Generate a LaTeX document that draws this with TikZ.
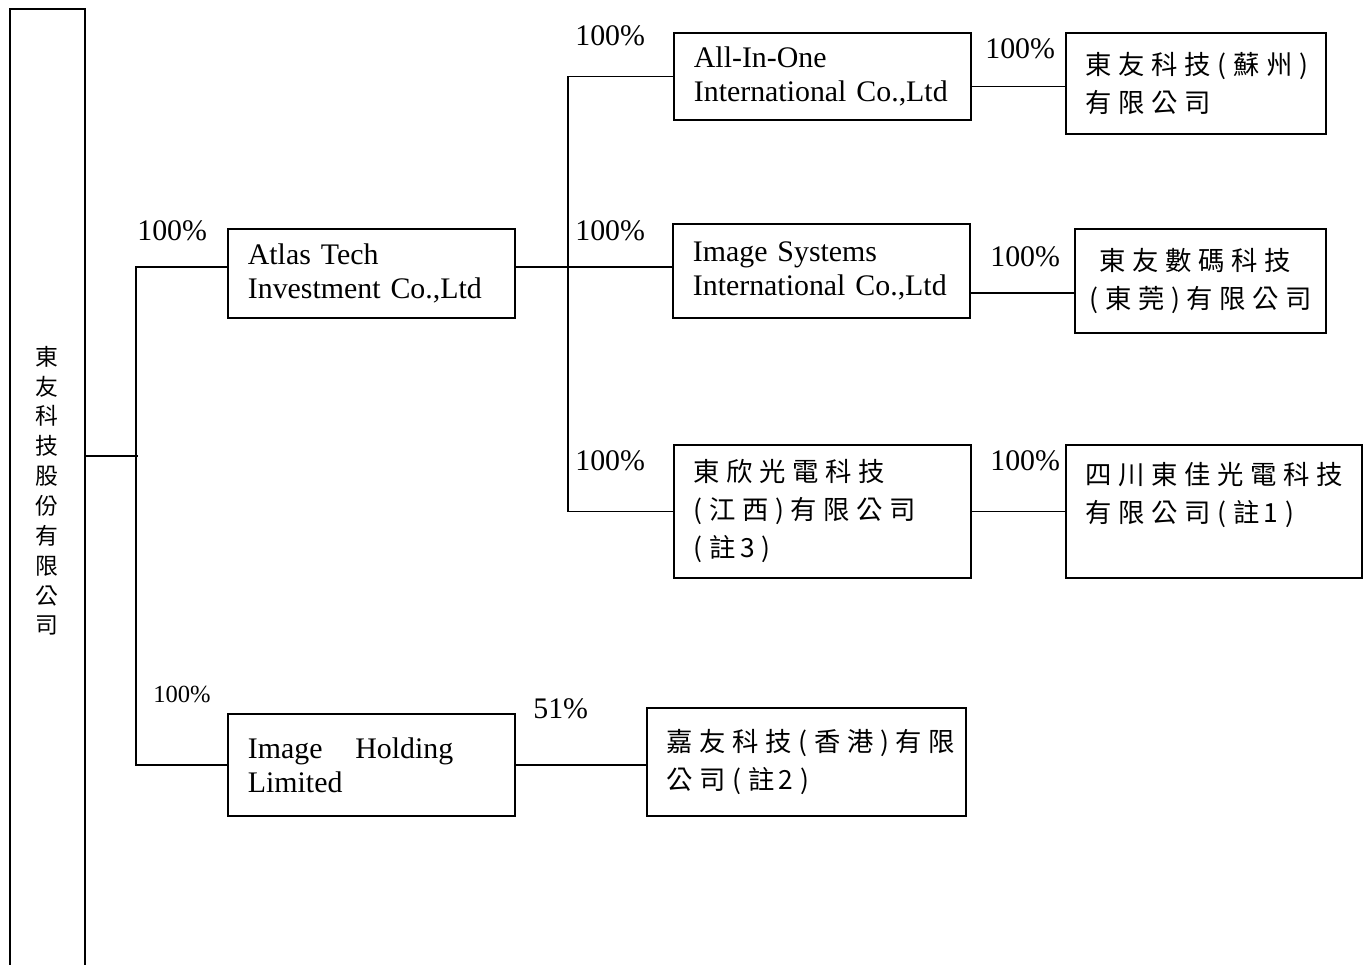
\documentclass[tikz,border=0pt]{standalone}
\usepackage{fontspec}
\setmainfont{Liberation Serif}
\newfontfamily\cjk[LetterSpace=25]{Noto Sans CJK TC}
\newfontfamily\cjkv{Noto Sans CJK TC}
\usepackage{tikz}
\usetikzlibrary{positioning}

\tikzset{
  cobox/.style={draw, line width=1pt, inner xsep=0.4cm, inner ysep=2pt, align=left, anchor=north west},
  engtxt/.style={font=\fontsize{17}{19.3}\selectfont},
  chntxt/.style={font=\cjk\fontsize{15}{21.6}\selectfont},
  pct/.style={anchor=base west, inner sep=0pt, font=\fontsize{17}{19}\selectfont},
  link/.style={line width=0.8pt}
}

\begin{document}
\begin{tikzpicture}[x=0.02cm,y=-0.02cm]
  \useasboundingbox (0,0) rectangle (1369,964);
  \clip (0,0) rectangle (1369,964);
  % parent company, box runs off the page
  \node[draw, line width=1pt, anchor=north west, minimum width=1.5cm, minimum height=19.28cm, align=center,
        font=\cjkv\fontsize{13}{17}\selectfont] (parent) at (9,8)
        {東\\友\\科\\技\\股\\份\\有\\限\\公\\司};

  % first level
  \node[cobox, engtxt, text width=4.94cm, minimum height=1.78cm] (atlas) at (227,228)
        {Atlas Tech\\Investment Co.,Ltd};
  \node[cobox, engtxt, text width=4.94cm, minimum height=2.04cm] (holding) at (227,713)
        {Image\hspace{1.1em}Holding\\Limited};

  % second level
  \node[cobox, engtxt, text width=5.14cm, minimum height=1.74cm] (aio) at (673,32)
        {All-In-One\\International Co.,Ltd};
  \node[cobox, engtxt, text width=5.14cm, minimum height=1.88cm] (imgsys) at (672,223)
        {Image Systems\\International Co.,Ltd};
  \node[cobox, chntxt, text width=5.14cm, minimum height=2.66cm] (jiangxi) at (673,444)
        {東欣光電科技\\(江西)有限公司\\(註\,3)};
  \node[cobox, chntxt, text width=5.58cm, minimum height=2.16cm] (jiayou) at (646,707)
        {嘉友科技(香港)有限\\公司(註\,2)};

  % third level
  \node[cobox, chntxt, text width=4.4cm, minimum height=2.02cm] (suzhou) at (1065,32)
        {東友科技(蘇州)\\有限公司};
  \node[cobox, chntxt, inner xsep=0.3cm, text width=4.42cm, minimum height=2.08cm] (dongguan) at (1074,228)
        {\hspace{0.2cm}東友數碼科技\\(東莞)有限公司};
  \node[cobox, chntxt, text width=5.12cm, minimum height=2.66cm] (sichuan) at (1065,444)
        {四川東佳光電科技\\有限公司(註\,1)\\\mbox{}};

  % trunks
  \coordinate (trunkA) at (136,456);
  \coordinate (trunkB) at (568,266);
  \coordinate (atlasIn) at ([yshift=0.13cm]atlas.west);
  \coordinate (atlasOut) at ([yshift=0.13cm]atlas.east);
  \draw[link] (parent.east |- trunkA) -- ([xshift=0.04cm]trunkA);
  \draw[link] (atlasIn) -- (atlasIn -| trunkA) -- (holding.west -| trunkA) -- (holding.west);
  \draw[link] (atlasOut) -- (atlasOut -| imgsys.west);
  \draw[link] (aio.west) -- (aio.west -| trunkB) -- (jiangxi.west -| trunkB) -- (jiangxi.west);
  \draw[link] ([yshift=-0.06cm]suzhou.west -| aio.east) -- ([yshift=-0.06cm]suzhou.west);
  \draw[link] ([yshift=-0.24cm]dongguan.west -| imgsys.east) -- ([yshift=-0.24cm]dongguan.west);
  \draw[link] (jiangxi.east) -- (sichuan.west);
  \draw[link] (holding.east) -- (holding.east -| jiayou.west);

  % shares
  \node[pct] (pAtlas) at (137,240) {100\%};
  \node[pct, font=\fontsize{14}{16}\selectfont] (pHolding) at (153,702) {100\%};
  \node[pct] (pAio) at (575,45) {100\%};
  \node[pct] (pImgsys) at (575,240) {100\%};
  \node[pct] (pJiangxi) at (575,470) {100\%};
  \node[pct] (pJiayou) at (533,718) {51\%};
  \node[pct] (pSuzhou) at (985,58) {100\%};
  \node[pct] (pDongguan) at (990,266) {100\%};
  \node[pct] (pSichuan) at (990,470) {100\%};
\end{tikzpicture}
\end{document}
